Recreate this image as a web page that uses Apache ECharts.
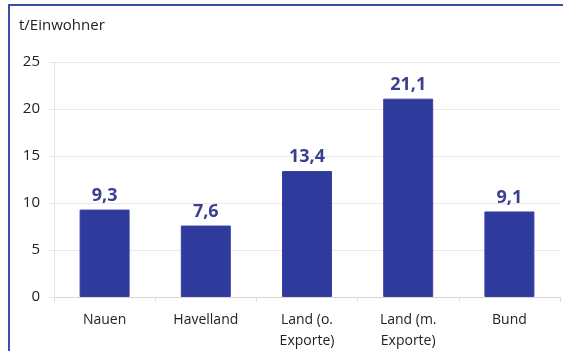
<!DOCTYPE html>
<html><head><meta charset="utf-8">
<script src="https://cdn.jsdelivr.net/npm/echarts@6/dist/echarts.min.js"></script>
<style>html,body{margin:0;padding:0;background:#fff}#c{width:563px;height:351px}</style>
</head><body><div id="c"></div>
<script>
const categories = ['Nauen', 'Havelland', 'Land (o.\nExporte)', 'Land (m.\nExporte)', 'Bund'];
const values = [9.3, 7.6, 13.4, 21.1, 9.1];
const yTicks = [0, 5, 10, 15, 20, 25];
const unitLabel = 't/Einwohner';

const chart = echarts.init(document.getElementById('c'), null, {renderer: 'canvas'});
const font = '"Open Sans", "Noto Sans", sans-serif';
chart.setOption({
  animation: false,
  graphic: [
    {type: 'rect', shape: {x: 9, y: 5, width: 620, height: 420},
     style: {fill: 'none', stroke: '#3b4ea6', lineWidth: 2}, z: 100},
    {type: 'text', left: 19, top: 18, style: {text: unitLabel, font: '15px ' + font, fill: '#222'}}
  ],
  grid: {left: 54, right: 3, top: 62, bottom: 54, outerBoundsMode: 'none', containLabel: false},
  xAxis: {
    type: 'category', data: categories,
    axisLine: {lineStyle: {color: '#dcd2d2'}},
    axisTick: {show: true, length: 5, lineStyle: {color: '#e4dada'}},
    axisLabel: {color: '#222', fontSize: 14, fontFamily: font, margin: 13, lineHeight: 21}
  },
  yAxis: {
    type: 'value', min: yTicks[0], max: yTicks[yTicks.length - 1], interval: 5,
    axisLine: {show: true, lineStyle: {color: '#ece4e4'}},
    axisTick: {show: true, length: 5, lineStyle: {color: '#ece4e4'}},
    splitLine: {lineStyle: {color: '#efe6e6'}},
    axisLabel: {color: '#222', fontSize: 15, fontFamily: font, margin: 14}
  },
  series: [{
    type: 'bar', data: values, barWidth: 50,
    itemStyle: {color: '#2f3a9d', borderColor: '#3a3fa8', borderWidth: 1},
    label: {show: true, position: 'top', distance: 5, color: '#3a3f92', fontWeight: 'bold',
            fontSize: 18, fontFamily: font,
            formatter: p => String(p.value).replace('.', ',')}
  }]
});
</script></body></html>
